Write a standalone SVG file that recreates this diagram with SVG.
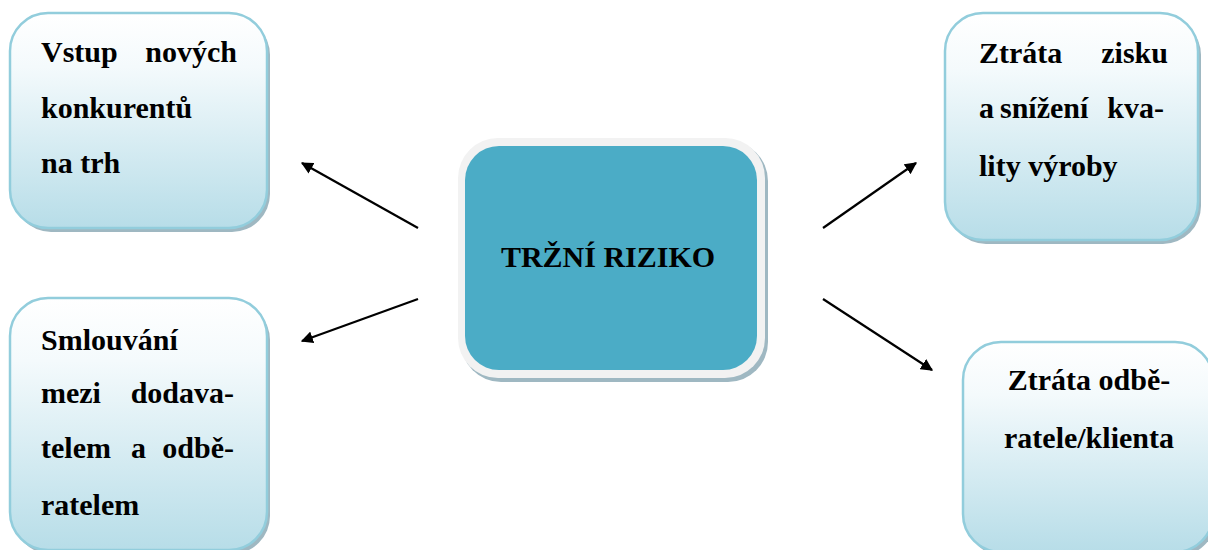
<svg xmlns="http://www.w3.org/2000/svg" width="1208" height="550" viewBox="0 0 1208 550">
  <defs>
    <linearGradient id="boxFill" x1="0" y1="0" x2="0" y2="1">
      <stop offset="0" stop-color="#ffffff"/>
      <stop offset="0.25" stop-color="#f4fafc"/>
      <stop offset="1" stop-color="#b7dde8"/>
    </linearGradient>
    <marker id="arrow" viewBox="0 0 10 10" refX="9" refY="5" markerWidth="5.5" markerHeight="5.5" orient="auto" markerUnits="strokeWidth">
      <path d="M0,0 L10,5 L0,10 z" fill="#000"/>
    </marker>
  </defs>
  <style>
    .shadow { fill: #9fb8c2; }
    .box { fill: url(#boxFill); stroke: #92cddc; stroke-width: 2.5; }
    .label { font-family: "Liberation Serif", "Times New Roman", serif; font-weight: bold; font-size: 30px; fill: #000; }
    .conn { stroke: #000; stroke-width: 2.2; fill: none; marker-end: url(#arrow); }
  </style>
  <rect width="1208" height="550" fill="#ffffff"/>

  <!-- central node -->
  <g id="center">
    <rect class="shadow" x="461" y="141" width="307" height="241" rx="40"/>
    <rect x="458" y="138" width="307" height="240" rx="40" fill="#f2f2f2"/>
    <rect x="465" y="146" width="292" height="224" rx="34" fill="#4bacc6"/>
    <text class="label" x="608" y="267" text-anchor="middle">TRŽNÍ RIZIKO</text>
  </g>

  <!-- top-left node -->
  <g id="new-competitors">
    <rect class="shadow" x="13" y="17" width="257" height="215" rx="38"/>
    <rect class="box" x="10" y="13" width="257" height="215" rx="38"/>
    <text class="label"><tspan x="41" y="62">Vstup</tspan><tspan x="237" y="62" text-anchor="end">nových</tspan></text>
    <text class="label" x="41" y="118">konkurentů</text>
    <text class="label" x="41" y="173">na trh</text>
  </g>

  <!-- bottom-left node -->
  <g id="bargaining">
    <rect class="shadow" x="13" y="302" width="257" height="252" rx="38"/>
    <rect class="box" x="10" y="298" width="257" height="252" rx="38"/>
    <text class="label" x="41" y="350">Smlouvání</text>
    <text class="label"><tspan x="41" y="403">mezi</tspan><tspan x="234" y="403" text-anchor="end">dodava-</tspan></text>
    <text class="label"><tspan x="41" y="458">telem</tspan><tspan x="131" y="458">a</tspan><tspan x="234" y="458" text-anchor="end">odbě-</tspan></text>
    <text class="label" x="41" y="515">ratelem</text>
  </g>

  <!-- top-right node -->
  <g id="profit-loss">
    <rect class="shadow" x="948" y="17" width="253" height="227" rx="38"/>
    <rect class="box" x="945" y="13" width="253" height="227" rx="38"/>
    <text class="label"><tspan x="979" y="63">Ztráta</tspan><tspan x="1168" y="63" text-anchor="end">zisku</tspan></text>
    <text class="label"><tspan x="979" y="118">a</tspan><tspan x="1000" y="118">snížení</tspan><tspan x="1164" y="118" text-anchor="end">kva-</tspan></text>
    <text class="label" x="979" y="176">lity výroby</text>
  </g>

  <!-- bottom-right node -->
  <g id="client-loss">
    <rect class="shadow" x="966" y="346" width="250" height="210" rx="38"/>
    <rect class="box" x="963" y="342" width="250" height="210" rx="38"/>
    <text class="label" x="1089" y="390" text-anchor="middle">Ztráta odbě-</text>
    <text class="label" x="1089" y="448" text-anchor="middle">ratele/klienta</text>
  </g>

  <!-- connectors -->
  <g id="connectors">
    <line class="conn" x1="418" y1="228" x2="302" y2="163"/>
    <line class="conn" x1="418" y1="299" x2="302" y2="341"/>
    <line class="conn" x1="823" y1="228" x2="916" y2="163"/>
    <line class="conn" x1="823" y1="299" x2="932" y2="370"/>
  </g>
</svg>
